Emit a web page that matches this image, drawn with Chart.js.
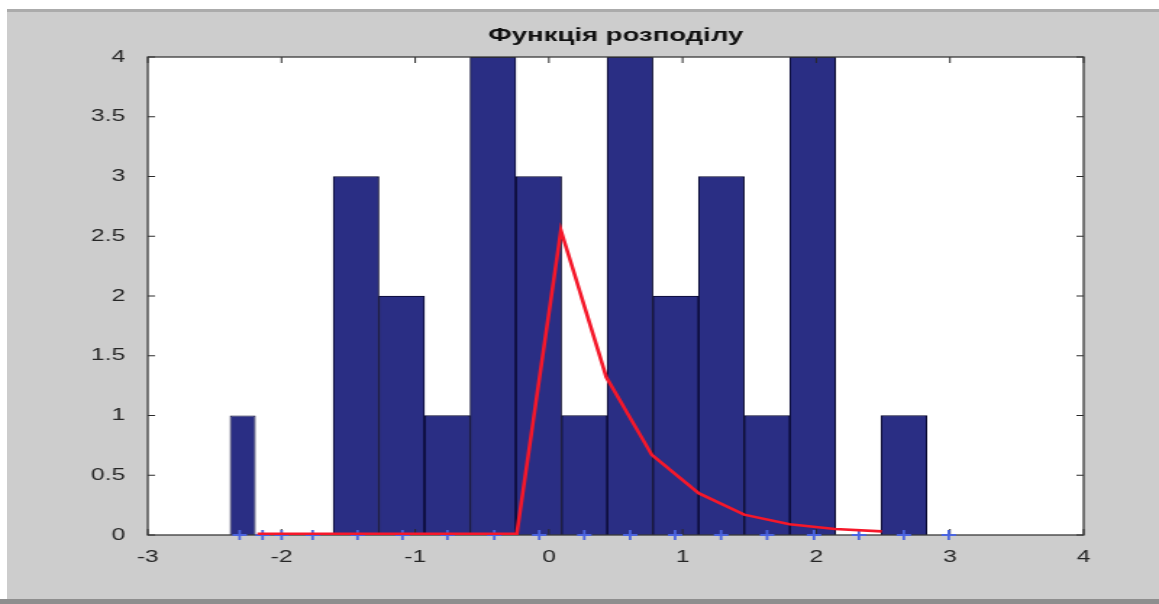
<!DOCTYPE html>
<html>
<head>
<meta charset="utf-8">
<script src="https://cdn.jsdelivr.net/npm/chart.js@4.4.1/dist/chart.umd.min.js"></script>
<style>
    html, body { margin: 0; padding: 0; }
    body { width: 1159px; height: 604px; overflow: hidden; background: #fff; position: relative; }
    #panel { position: absolute; left: 7px; top: 9px; width: 1152px; height: 591px; background: #cdcdcd; border-top: 3px solid #ababab; box-sizing: border-box; }
    #panel-bottom { position: absolute; left: 0; top: 599px; width: 1159px; height: 5px; background: #8e8e8e; }
    /* the reference is a horizontally stretched figure, so draw narrow and stretch */
    #wrap { position: absolute; left: 0; top: 0; width: 800px; height: 604px; transform: scaleX(1.44875); transform-origin: 0 0; }
</style>
</head>
<body>
<div id="panel"></div>
<div id="panel-bottom"></div>
<div id="wrap"><canvas id="histChart" width="800" height="604"></canvas></div>
<script>
// --- DATA ---
const titleText = 'Функція розподілу';
const xTicks = [-3, -2, -1, 0, 1, 2, 3, 4];
const yTicks = [0, 0.5, 1, 1.5, 2, 2.5, 3, 3.5, 4];

// histogram bars (bin centres and counts)
const barCenters = [-1.442, -1.101, -0.759, -0.418, -0.076, 0.266, 0.607, 0.949, 1.290, 1.632, 1.973, 2.656];
const barCounts = [3, 2, 1, 4, 3, 1, 4, 2, 3, 1, 4, 1];
// the narrow lone bar on the left
const narrowCenters = [-2.290];
const narrowCounts = [1];

// red density curve
const curveX = [-2.18, -0.24, 0.09, 0.43, 0.77, 1.12, 1.46, 1.80, 2.14, 2.49];
const curveY = [0.01, 0.01, 2.55, 1.32, 0.67, 0.35, 0.17, 0.09, 0.05, 0.03];

// sample points marked on the axis
const sampleX = [-2.313, -2.141, -1.999, -1.767, -1.431, -1.095, -0.759, -0.408, -0.072, 0.265,
    0.608, 0.944, 1.288, 1.632, 1.983, 2.319, 2.655, 2.991];

const toPoints = (xs, ys) => xs.map((x, i) => ({ x, y: Array.isArray(ys) ? ys[i] : ys }));

const MARKER_DATASET = 1;

// --- PLUGINS ---
// white plot area + MATLAB style box with inward ticks (drawn above the bars, below markers/curve)
const axesBox = {
    id: 'axesBox',
    beforeDraw(chart) {
        const { ctx, chartArea: a } = chart;
        ctx.save();
        ctx.fillStyle = '#ffffff';
        ctx.fillRect(a.left, a.top, a.right - a.left, a.bottom - a.top);
        ctx.restore();
    },
    beforeDatasetDraw(chart, args) {
        if (args.index !== MARKER_DATASET) return;
        const { ctx, chartArea: a, scales } = chart;
        ctx.save();
        ctx.strokeStyle = '#2a2a2a';
        ctx.lineWidth = 1;
        ctx.beginPath();
        xTicks.forEach(v => {
            const px = scales.x.getPixelForValue(v);
            ctx.moveTo(px, a.bottom); ctx.lineTo(px, a.bottom - 6);
            ctx.moveTo(px, a.top); ctx.lineTo(px, a.top + 6);
        });
        yTicks.forEach(v => {
            const py = scales.y.getPixelForValue(v);
            ctx.moveTo(a.left, py); ctx.lineTo(a.left + 5, py);
            ctx.moveTo(a.right, py); ctx.lineTo(a.right - 5, py);
        });
        ctx.stroke();
        ctx.strokeStyle = '#3a3a3a';
        ctx.lineWidth = 1.3;
        ctx.strokeRect(a.left, a.top, a.right - a.left, a.bottom - a.top);
        ctx.restore();
    }
};

// --- CHART ---
const tickFont = { family: "'Liberation Sans', Arial, sans-serif", size: 17 };

new Chart(document.getElementById('histChart').getContext('2d'), {
    data: {
        datasets: [
            {
                type: 'line',
                data: toPoints(curveX, curveY),
                borderColor: '#f5182a',
                borderWidth: 2.6,
                pointRadius: 0,
                tension: 0,
                order: 0
            },
            {
                type: 'scatter',
                data: toPoints(sampleX, 0),
                pointStyle: 'cross',
                pointRadius: 5,
                borderColor: '#4a64e0',
                borderWidth: 1.8,
                clip: false,
                order: 1
            },
            {
                type: 'bar',
                data: toPoints(barCenters, barCounts),
                backgroundColor: '#2a2e84',
                borderColor: '#08082e',
                borderWidth: 1,
                grouped: false,
                categoryPercentage: 1,
                barPercentage: 1,
                order: 2
            },
            {
                type: 'bar',
                data: toPoints(narrowCenters, narrowCounts),
                backgroundColor: '#2a2e84',
                borderColor: '#08082e',
                borderWidth: 1,
                grouped: false,
                categoryPercentage: 1,
                barPercentage: 0.57,
                order: 2
            }
        ]
    },
    options: {
        responsive: false,
        animation: false,
        layout: { padding: { left: 0, right: 52, top: 0, bottom: 0 } },
        plugins: {
            legend: { display: false },
            tooltip: { enabled: false },
            title: {
                display: true,
                text: titleText,
                fullSize: false,
                color: '#111',
                font: { family: "'Liberation Sans', Arial, sans-serif", size: 19, weight: 'bold', lineHeight: 1.2 },
                padding: { top: 24.6, bottom: 9.6 }
            }
        },
        scales: {
            x: {
                type: 'linear',
                offset: false,
                min: xTicks[0],
                max: xTicks[xTicks.length - 1],
                afterBuildTicks: scale => { scale.ticks = xTicks.map(v => ({ value: v })); },
                afterFit: scale => { scale.height = 69; },
                grid: { display: false, offset: false },
                border: { display: false },
                ticks: { color: '#262626', font: tickFont, padding: 4, maxRotation: 0, callback: v => String(v) }
            },
            y: {
                type: 'linear',
                min: yTicks[0],
                max: yTicks[yTicks.length - 1],
                afterBuildTicks: scale => { scale.ticks = yTicks.map(v => ({ value: v })); },
                afterFit: scale => { scale.width = 102; },
                grid: { display: false },
                border: { display: false },
                ticks: { color: '#262626', font: tickFont, padding: 7.5, callback: v => String(v) }
            }
        }
    },
    plugins: [axesBox]
});
</script>
</body>
</html>
